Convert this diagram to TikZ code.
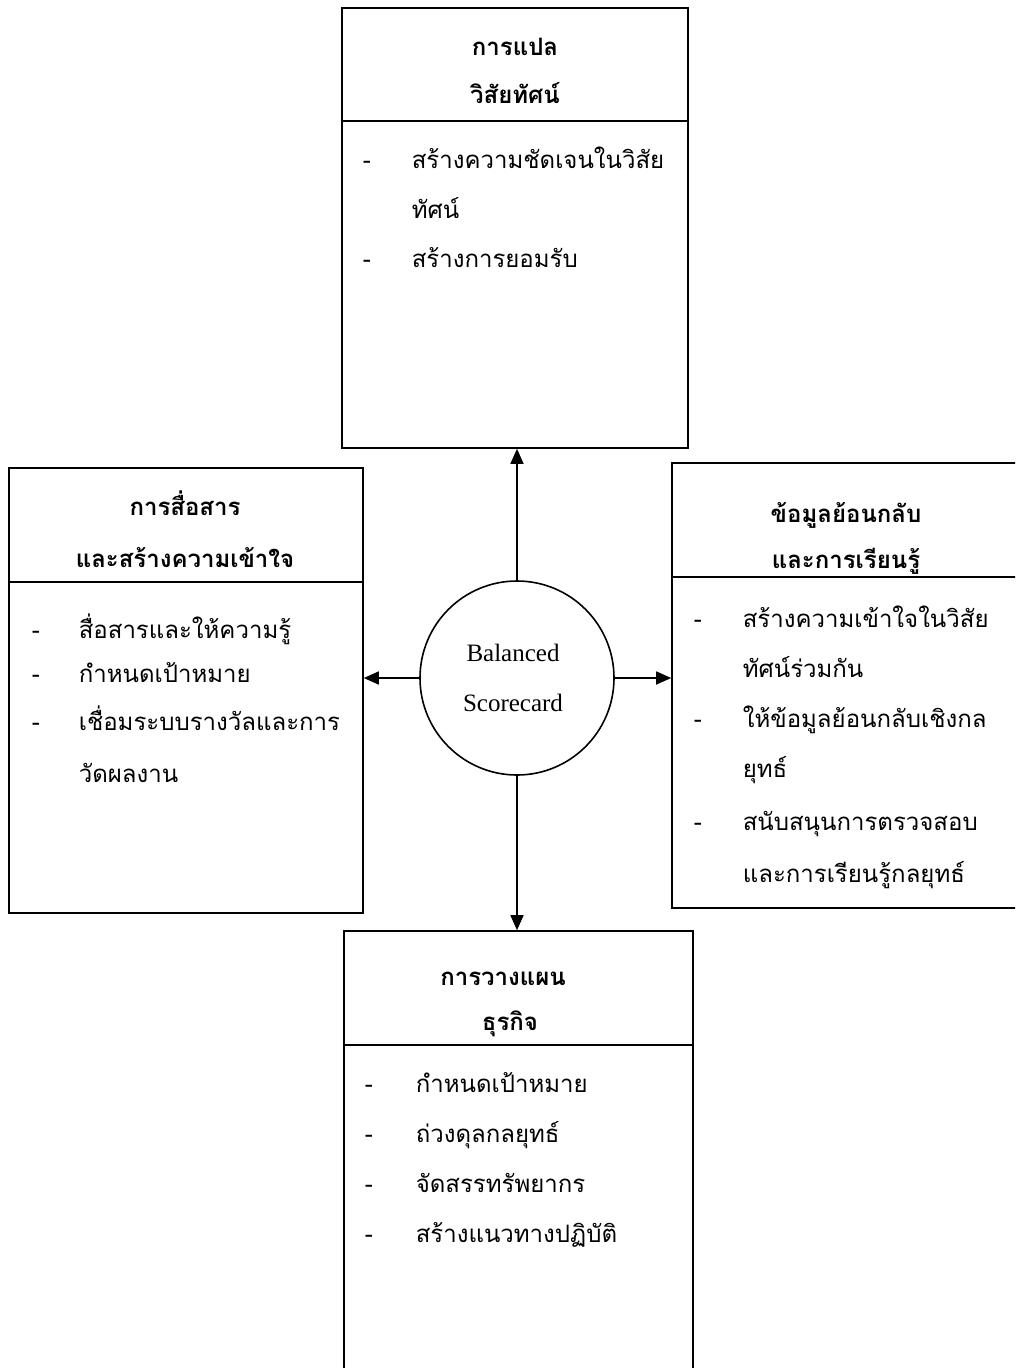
\documentclass[tikz,border=0pt]{standalone}
\usepackage{fontspec}
\setmainfont{Liberation Serif}
\newfontfamily\thaifont[Script=Thai]{Loma}
\usetikzlibrary{arrows.meta,positioning}

\begin{document}
\begin{tikzpicture}[x=1pt,y=-1pt,>={Triangle[length=15pt,width=13pt]},line width=1.6pt]
\tikzstyle{box}=[draw=black,line width=1.6pt,inner sep=0pt]
\tikzstyle{head}=[anchor=base,inner sep=0pt,font=\thaifont\bfseries\fontsize{24}{28}\selectfont]
\tikzstyle{item}=[anchor=base west,inner sep=0pt,font=\thaifont\fontsize{24}{28}\selectfont]
\tikzstyle{bsc}=[circle,draw=black,line width=1.6pt,minimum size=194pt,align=center,font=\fontsize{25}{50}\selectfont]

\useasboundingbox (0,0) rectangle (1015,1368);
\clip (0,0) rectangle (1015,1368);

% Cajas de las cuatro perspectivas
\node[box,minimum width=346pt,minimum height=440pt] (vision) at (515,228) {};
\node[box,minimum width=354pt,minimum height=445pt] (comm) at (186,690.5) {};
\node[box,minimum width=350pt,minimum height=445pt] (feed) at (847,685.5) {};
\node[box,minimum width=349pt,minimum height=452pt] (plan) at (518.5,1157) {};

% Circulo central
\node[bsc] (card) at (517,678) {\hspace*{-8pt}Balanced\\\hspace*{-8pt}Scorecard};

% Lineas divisorias
\draw ([yshift=-114pt]vision.north west) -- ([yshift=-114pt]vision.north east);
\draw ([yshift=-115pt]comm.north west) -- ([yshift=-115pt]comm.north east);
\draw ([yshift=-115pt]feed.north west) -- ([yshift=-115pt]feed.north east);
\draw ([yshift=-115pt]plan.north west) -- ([yshift=-115pt]plan.north east);

% Flechas desde el centro
\draw[->] (card.north) -- (card.north |- vision.south);
\draw[->] (card.west) -- (card.west -| comm.east);
\draw[->] (card.east) -- (card.east -| feed.west);
\draw[->] (card.south) -- (card.south |- plan.north);

% Textos: traducir la vision
\node[head] (v1) at (515,55) {การแปล};
\node[head] (v2) at (515,103) {วิสัยทัศน์};
\node[item] (vd1) at (362,168) {-};
\node[item] (vt1) at (411,168) {สร้างความชัดเจนในวิสัย};
\node[item] (vt1b) at (411,218) {ทัศน์};
\node[item] (vd2) at (362,267) {-};
\node[item] (vt2) at (411,267) {สร้างการยอมรับ};

% Textos: comunicacion
\node[head] (c1) at (185,515) {การสื่อสาร};
\node[head] (c2) at (185,567) {และสร้างความเข้าใจ};
\node[item] (cd1) at (31,638) {-};
\node[item] (ct1) at (78,638) {สื่อสารและให้ความรู้};
\node[item] (cd2) at (31,682) {-};
\node[item] (ct2) at (78,682) {กำหนดเป้าหมาย};
\node[item] (cd3) at (31,730) {-};
\node[item] (ct3) at (78,730) {เชื่อมระบบรางวัลและการ};
\node[item] (ct3b) at (78,782) {วัดผลงาน};

% Textos: retroalimentacion
\node[head] (f1) at (846,522) {ข้อมูลย้อนกลับ};
\node[head] (f2) at (846,568) {และการเรียนรู้};
\node[item] (fd1) at (693,627) {-};
\node[item] (ft1) at (742,627) {สร้างความเข้าใจในวิสัย};
\node[item] (ft1b) at (742,677) {ทัศน์ร่วมกัน};
\node[item] (fd2) at (693,727) {-};
\node[item] (ft2) at (742,727) {ให้ข้อมูลย้อนกลับเชิงกล};
\node[item] (ft2b) at (742,777) {ยุทธ์};
\node[item] (fd3) at (693,830) {-};
\node[item] (ft3) at (742,830) {สนับสนุนการตรวจสอบ};
\node[item] (ft3b) at (742,882) {และการเรียนรู้กลยุทธ์};

% Textos: planificacion
\node[head] (p1) at (503,985) {การวางแผน};
\node[head] (p2) at (510,1030) {ธุรกิจ};
\node[item] (pd1) at (364,1092) {-};
\node[item] (pt1) at (415,1092) {กำหนดเป้าหมาย};
\node[item] (pd2) at (364,1142) {-};
\node[item] (pt2) at (415,1142) {ถ่วงดุลกลยุทธ์};
\node[item] (pd3) at (364,1192) {-};
\node[item] (pt3) at (415,1192) {จัดสรรทรัพยากร};
\node[item] (pd4) at (364,1242) {-};
\node[item] (pt4) at (415,1242) {สร้างแนวทางปฏิบัติ};
\end{tikzpicture}
\end{document}
